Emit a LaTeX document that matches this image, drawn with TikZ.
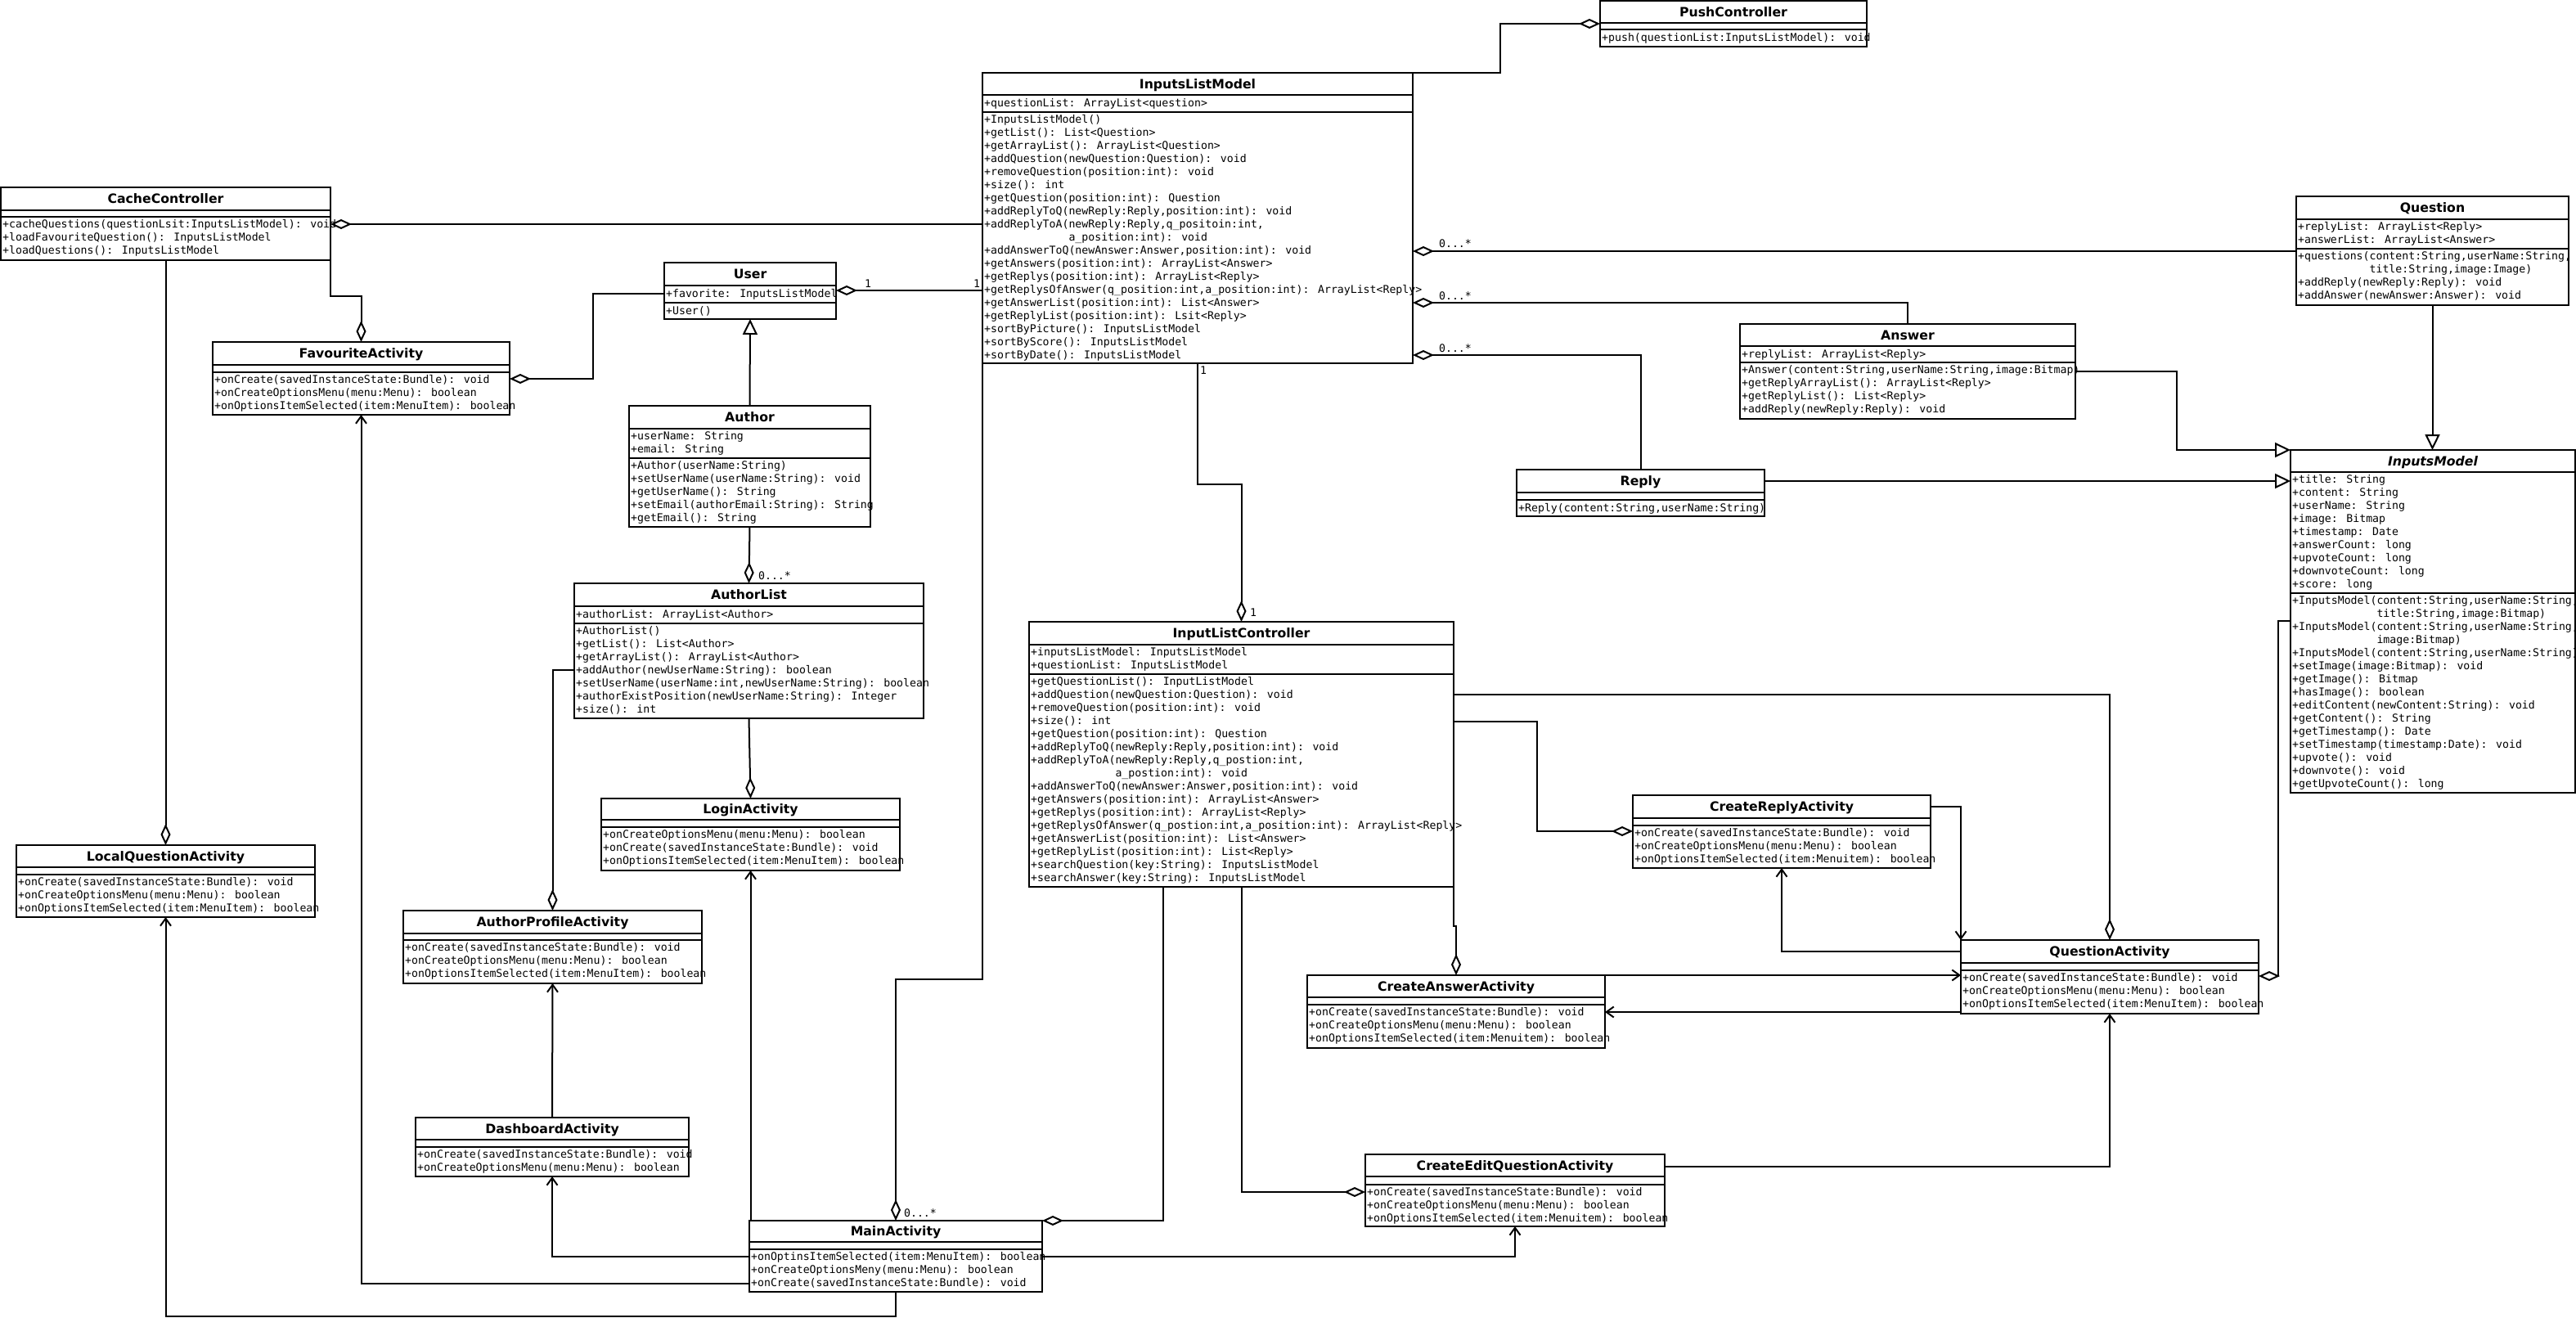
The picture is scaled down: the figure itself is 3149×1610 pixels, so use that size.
\documentclass[tikz,border=0pt]{standalone}
\usepackage{fontspec}
\newfontfamily\umlmono{DejaVu Sans Mono}
\newfontfamily\umlsans{DejaVu Sans}
\usetikzlibrary{arrows.meta}
\tikzset{
  dia/.tip={Diamond[open,length=26pt,width=12pt]},
  tri/.tip={Triangle[open,length=19pt,width=18pt]},
  barb/.tip={Straight Barb[length=9pt,width=13pt]},
  conn/.style={line width=2pt},
  classbox/.style={draw, fill=white, line width=2pt, inner sep=0pt, outer sep=0pt, rectangle},
  divider/.style={line width=2pt},
  classtitle/.style={font=\umlsans\bfseries\fontsize{15.7}{18}\selectfont, inner sep=0pt, text height=11.4pt, text depth=0pt},
  members/.style={font=\umlmono\fontsize{13.2}{16}\selectfont, align=left, inner sep=0pt, anchor=north west, execute at begin node=\strut},
  mult/.style={font=\umlmono\fontsize{13.2}{16}\selectfont, inner sep=0pt},
}
\newcommand{\umlclass}[8]{%
  \node[classbox, minimum width={(#4)-(#2)}, minimum height={(#5)-(#3)}, anchor=north west] (#1) at (#2,#3) {};
  \draw[divider] (#2,#6) -- (#4,#6) (#2,#7) -- (#4,#7);
  \node[classtitle] (#1-title) at ({((#2)+(#4))/2},{((#3)+(#6))/2}) {#8};
}
\begin{document}
\begin{tikzpicture}[x=1pt,y=-1pt]
\useasboundingbox (0,0) rectangle (3149,1610);

% ---------- classes ----------
\umlclass{push}{1956}{1}{2282}{57}{28}{36}{PushController}
\node[members] (push-m) at (1958,39.3) {+push(questionList:InputsListModel): void};

\umlclass{ilm}{1201}{89}{1727}{444}{116}{137}{InputsListModel}
\node[members] (ilm-a) at (1203,119.3) {+questionList: ArrayList<question>};
\node[members] (ilm-m) at (1203,140.3) {+InputsListModel()\\
+getList(): List<Question>\\
+getArrayList(): ArrayList<Question>\\
+addQuestion(newQuestion:Question): void\\
+removeQuestion(position:int): void\\
+size(): int\\
+getQuestion(position:int): Question\\
+addReplyToQ(newReply:Reply,position:int): void\\
+addReplyToA(newReply:Reply,q\_positoin:int,\\
\phantom{+addReplyToA(}a\_position:int): void\\
+addAnswerToQ(newAnswer:Answer,position:int): void\\
+getAnswers(position:int): ArrayList<Answer>\\
+getReplys(position:int): ArrayList<Reply>\\
+getReplysOfAnswer(q\_position:int,a\_position:int): ArrayList<Reply>\\
+getAnswerList(position:int): List<Answer>\\
+getReplyList(position:int): Lsit<Reply>\\
+sortByPicture(): InputsListModel\\
+sortByScore(): InputsListModel\\
+sortByDate(): InputsListModel};

\umlclass{cache}{1}{229}{404}{318}{257}{265}{CacheController}
\node[members] (cache-m) at (3,268.3) {+cacheQuestions(questionLsit:InputsListModel): void\\
+loadFavouriteQuestion(): InputsListModel\\
+loadQuestions(): InputsListModel};

\umlclass{user}{812}{321}{1022}{390}{349}{370}{User}
\node[members] (user-a) at (814,352.3) {+favorite: InputsListModel};
\node[members] (user-m) at (814,373.3) {+User()};

\umlclass{fav}{260}{418}{623}{507}{446}{455}{FavouriteActivity}
\node[members] (fav-m) at (262,458.3) {+onCreate(savedInstanceState:Bundle): void\\
+onCreateOptionsMenu(menu:Menu): boolean\\
+onOptionsItemSelected(item:MenuItem): boolean};

\umlclass{author}{769}{496}{1064}{644}{524}{560}{Author}
\node[members] (author-a) at (771,527.3) {+userName: String\\
+email: String};
\node[members] (author-m) at (771,563.3) {+Author(userName:String)\\
+setUserName(userName:String): void\\
+getUserName(): String\\
+setEmail(authorEmail:String): String\\
+getEmail(): String};

\umlclass{authorlist}{702}{713}{1129}{878}{741}{762}{AuthorList}
\node[members] (authorlist-a) at (704,744.3) {+authorList: ArrayList<Author>};
\node[members] (authorlist-m) at (704,765.3) {+AuthorList()\\
+getList(): List<Author>\\
+getArrayList(): ArrayList<Author>\\
+addAuthor(newUserName:String): boolean\\
+setUserName(userName:int,newUserName:String): boolean\\
+authorExistPosition(newUserName:String): Integer\\
+size(): int};

\umlclass{login}{735}{976}{1100}{1064}{1002}{1011}{LoginActivity}
\node[members] (login-m) at (737,1014.3) {+onCreateOptionsMenu(menu:Menu): boolean\\
+onCreate(savedInstanceState:Bundle): void\\
+onOptionsItemSelected(item:MenuItem): boolean};

\umlclass{ilc}{1258}{760}{1777}{1084}{788}{824}{InputListController}
\node[members] (ilc-a) at (1260,791.3) {+inputsListModel: InputsListModel\\
+questionList: InputsListModel};
\node[members] (ilc-m) at (1260,827.3) {+getQuestionList(): InputListModel\\
+addQuestion(newQuestion:Question): void\\
+removeQuestion(position:int): void\\
+size(): int\\
+getQuestion(position:int): Question\\
+addReplyToQ(newReply:Reply,position:int): void\\
+addReplyToA(newReply:Reply,q\_postion:int,\\
\phantom{+addReplyToA(}a\_postion:int): void\\
+addAnswerToQ(newAnswer:Answer,position:int): void\\
+getAnswers(position:int): ArrayList<Answer>\\
+getReplys(position:int): ArrayList<Reply>\\
+getReplysOfAnswer(q\_postion:int,a\_position:int): ArrayList<Reply>\\
+getAnswerList(position:int): List<Answer>\\
+getReplyList(position:int): List<Reply>\\
+searchQuestion(key:String): InputsListModel\\
+searchAnswer(key:String): InputsListModel};

\umlclass{question}{2807}{240}{3140}{373}{268}{304}{Question}
\node[members] (question-a) at (2809,271.3) {+replyList: ArrayList<Reply>\\
+answerList: ArrayList<Answer>};
\node[members] (question-m) at (2809,307.3) {+questions(content:String,userName:String,\\
\phantom{+questions(}title:String,image:Image)\\
+addReply(newReply:Reply): void\\
+addAnswer(newAnswer:Answer): void};

\umlclass{answer}{2127}{396}{2537}{512}{423}{443}{Answer}
\node[members] (answer-a) at (2129,426.3) {+replyList: ArrayList<Reply>};
\node[members] (answer-m) at (2129,446.3) {+Answer(content:String,userName:String,image:Bitmap)\\
+getReplyArrayList(): ArrayList<Reply>\\
+getReplyList(): List<Reply>\\
+addReply(newReply:Reply): void};

\umlclass{reply}{1854}{574}{2157}{631}{602}{611}{Reply}
\node[members] (reply-m) at (1856,614.3) {+Reply(content:String,userName:String)};

\umlclass{imodel}{2800}{550}{3148}{969}{577}{725}{\itshape InputsModel}
\node[members] (imodel-a) at (2802,580.3) {+title: String\\
+content: String\\
+userName: String\\
+image: Bitmap\\
+timestamp: Date\\
+answerCount: long\\
+upvoteCount: long\\
+downvoteCount: long\\
+score: long};
\node[members] (imodel-m) at (2802,728.3) {+InputsModel(content:String,userName:String,\\
\phantom{+InputsModel(}title:String,image:Bitmap)\\
+InputsModel(content:String,userName:String,\\
\phantom{+InputsModel(}image:Bitmap)\\
+InputsModel(content:String,userName:String)\\
+setImage(image:Bitmap): void\\
+getImage(): Bitmap\\
+hasImage(): boolean\\
+editContent(newContent:String): void\\
+getContent(): String\\
+getTimestamp(): Date\\
+setTimestamp(timestamp:Date): void\\
+upvote(): void\\
+downvote(): void\\
+getUpvoteCount(): long};

\umlclass{creply}{1996}{972}{2360}{1061}{1000}{1009}{CreateReplyActivity}
\node[members] (creply-m) at (1998,1012.3) {+onCreate(savedInstanceState:Bundle): void\\
+onCreateOptionsMenu(menu:Menu): boolean\\
+onOptionsItemSelected(item:Menuitem): boolean};

\umlclass{qa}{2397}{1149}{2761}{1239}{1177}{1186}{QuestionActivity}
\node[members] (qa-m) at (2399,1189.3) {+onCreate(savedInstanceState:Bundle): void\\
+onCreateOptionsMenu(menu:Menu): boolean\\
+onOptionsItemSelected(item:MenuItem): boolean};

\umlclass{canswer}{1598}{1192}{1962}{1281}{1219}{1228}{CreateAnswerActivity}
\node[members] (canswer-m) at (1600,1231.3) {+onCreate(savedInstanceState:Bundle): void\\
+onCreateOptionsMenu(menu:Menu): boolean\\
+onOptionsItemSelected(item:Menuitem): boolean};

\umlclass{main}{916}{1492}{1274}{1579}{1518}{1527}{MainActivity}
\node[members] (main-m) at (918,1530.3) {+onOptinsItemSelected(item:MenuItem): boolean\\
+onCreateOptionsMeny(menu:Menu): boolean\\
+onCreate(savedInstanceState:Bundle): void};

\umlclass{cedit}{1669}{1411}{2035}{1499}{1438}{1448}{CreateEditQuestionActivity}
\node[members] (cedit-m) at (1671,1451.3) {+onCreate(savedInstanceState:Bundle): void\\
+onCreateOptionsMenu(menu:Menu): boolean\\
+onOptionsItemSelected(item:Menuitem): boolean};

\umlclass{lqa}{20}{1033}{385}{1121}{1060}{1069}{LocalQuestionActivity}
\node[members] (lqa-m) at (22,1072.3) {+onCreate(savedInstanceState:Bundle): void\\
+onCreateOptionsMenu(menu:Menu): boolean\\
+onOptionsItemSelected(item:MenuItem): boolean};

\umlclass{authprof}{493}{1113}{858}{1202}{1141}{1149}{AuthorProfileActivity}
\node[members] (authprof-m) at (495,1152.3) {+onCreate(savedInstanceState:Bundle): void\\
+onCreateOptionsMenu(menu:Menu): boolean\\
+onOptionsItemSelected(item:MenuItem): boolean};

\umlclass{dash}{508}{1366}{842}{1438}{1393}{1402}{DashboardActivity}
\node[members] (dash-m) at (510,1405.3) {+onCreate(savedInstanceState:Bundle): void\\
+onCreateOptionsMenu(menu:Menu): boolean};

% ---------- connectors ----------
\draw[conn,-dia] (ilm.north east) -- (1834,89) |- (push.west |- 0,29);
\draw[conn,dia-] (cache.east |- 0,274) -- (ilm.west |- 0,274);
\draw[conn,dia-] (user.east |- 0,355) -- (ilm.west |- 0,355);
\draw[conn,dia-] (ilm.east |- 0,307) -- (question.west |- 0,307);
\draw[conn,dia-] (ilm.east |- 0,370) -| (answer.north);
\draw[conn,dia-] (ilm.east |- 0,434) -| (reply.north);
\draw[conn,-dia] (ilm.south) -- (ilm.south |- 0,592) -| (ilc.north);
\draw[conn,-dia] (ilm.south west) -- (ilm.south west |- 0,1197) -| (main.north);

\draw[conn,-dia] (cache.south east) -- (cache.south east |- 0,362) -| (fav.north);
\draw[conn,-dia] (cache.south) -- (lqa.north);
\draw[conn,-dia] (user.west |- 0,359) -- (725,359) |- (fav.east |- 0,463);
\draw[conn,-tri] (author.north) -- (user.south);
\draw[conn,-dia] (author.south) -- (authorlist.north);
\draw[conn,-dia] (authorlist.south) -- (login.north);
\draw[conn,-dia] (authorlist.west |- 0,819) -| (authprof.north);
\draw[conn,-barb] (dash.north) -- (authprof.south);
\draw[conn,-barb] (main.west |- 0,1536) -| (dash.south);
\draw[conn,-barb] (main.west |- 0,1569) -| (fav.south);
\draw[conn,-barb] (login.south |- main.north) -- (login.south);
\draw[conn,-barb] (main.south) -- (main.south |- 0,1609) -| (lqa.south);
\draw[conn,-barb] (main.east |- 0,1536) -| (cedit.south);
\draw[conn,dia-] (main.north east) -| (ilc.south -| 1422,0);
\draw[conn,-dia] (ilc.south) |- (cedit.west |- 0,1457);
\draw[conn,-dia] (ilc.south east) |- (canswer.north |- 0,1132) -- (canswer.north);
\draw[conn,-dia] (ilc.east |- 0,882) -- (1879,882) |- (creply.west |- 0,1016);
\draw[conn,-dia] (ilc.east |- 0,849) -| (qa.north);
\draw[conn,-barb] (creply.east |- 0,986) -| (qa.north west);
\draw[conn,-barb] (qa.west |- 0,1163) -| (creply.south);
\draw[conn,-barb] (canswer.north east) -- (qa.west |- canswer.north east);
\draw[conn,-barb] (qa.west |- 0,1237) -- (canswer.east |- 0,1237);
\draw[conn,-barb] (cedit.east |- 0,1426) -| (qa.south);
\draw[conn,-dia] (imodel.west |- 0,759) -- (2785,759) |- (qa.east |- 0,1193);
\draw[conn,-tri] (answer.east |- 0,454) -- (2661,454) |- (imodel.north west);
\draw[conn,-tri] (reply.east |- 0,588) -- (imodel.west |- 0,588);
\draw[conn,-tri] (question.south) -- (question.south |- imodel.north);

% ---------- multiplicities ----------
\node[mult] (m-user) at (1061,347) {1};
\node[mult] (m-ilm-user) at (1194,347) {1};
\node[mult] (m-q) at (1779,298) {0...*};
\node[mult] (m-a) at (1779,362) {0...*};
\node[mult] (m-r) at (1779,426) {0...*};
\node[mult] (m-ilm-b) at (1471,453) {1};
\node[mult] (m-ilc) at (1532,749) {1};
\node[mult] (m-al) at (947,704) {0...*};
\node[mult] (m-main) at (1125,1483) {0...*};
\end{tikzpicture}
\end{document}
